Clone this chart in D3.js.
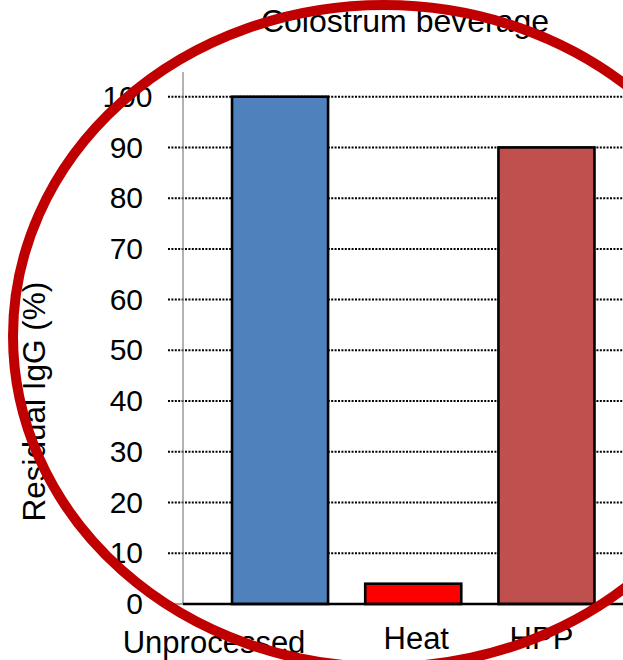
<!DOCTYPE html>
<html>
<head>
<meta charset="utf-8">
<script src="https://cdn.jsdelivr.net/npm/d3@7/dist/d3.min.js"></script>
<style>
  html, body { margin: 0; padding: 0; background: #fff; }
  svg { display: block; }
  text { font-family: "Liberation Sans", Arial, sans-serif; fill: #000; }
</style>
</head>
<body>
<script>
// Residual IgG after processing of colostrum beverage
const categories = ["Unprocessed", "Heat", "HPP"];
const residualIgG = [100, 4, 90];
const barColors = ["#4F81BD", "#FF0000", "#C0504D"];
const yTicks = [0, 10, 20, 30, 40, 50, 60, 70, 80, 90, 100];
const chartTitle = "Colostrum beverage";
const yTitle = "Residual IgG (%)";

const W = 623, H = 660;
const svg = d3.select("body").append("svg").attr("width", W).attr("height", H);

const axisX = 183;
const x = d3.scaleBand()
  .domain(categories)
  .range([axisX, 643.5])
  .paddingInner(0.279)
  .paddingOuter(0.368);

const y = d3.scaleLinear().domain([0, 100]).range([604, 96.7]);

// dotted gridlines, including the short tick stub left of the axis
svg.append("g")
  .selectAll("line")
  .data(yTicks.filter(t => t > 0))
  .join("line")
  .attr("x1", axisX - 15)
  .attr("x2", W)
  .attr("y1", d => y(d))
  .attr("y2", d => y(d))
  .attr("stroke", "#000")
  .attr("stroke-width", 2)
  .attr("stroke-dasharray", "2,1.4");

// vertical axis line
svg.append("line")
  .attr("x1", axisX).attr("x2", axisX)
  .attr("y1", 72).attr("y2", y(0))
  .attr("stroke", "#808080").attr("stroke-width", 1.2);

// tick labels
const yAxis = d3.axisLeft(y).tickValues(yTicks).tickSize(0).tickPadding(0);
const gy = svg.append("g").attr("transform", `translate(143,0)`).call(yAxis);
gy.select(".domain").remove();
gy.selectAll("text")
  .attr("font-size", 30)
  .attr("font-family", "'Liberation Sans', Arial, sans-serif")
  .attr("fill", "#000")
  .attr("dx", d => (d === 100 ? 9.5 : 0));

// bars
svg.append("g")
  .selectAll("rect")
  .data(categories)
  .join("rect")
  .attr("x", d => x(d))
  .attr("width", x.bandwidth())
  .attr("y", (d, i) => y(residualIgG[i]))
  .attr("height", (d, i) => y(0) - y(residualIgG[i]))
  .attr("fill", (d, i) => barColors[i])
  .attr("stroke", "#000")
  .attr("stroke-width", 2.6);

// baseline
svg.append("line")
  .attr("x1", axisX - 15).attr("x2", axisX)
  .attr("y1", y(0)).attr("y2", y(0))
  .attr("stroke", "#808080").attr("stroke-width", 1.5);
svg.append("line")
  .attr("x1", axisX).attr("x2", W)
  .attr("y1", y(0)).attr("y2", y(0))
  .attr("stroke", "#000").attr("stroke-width", 2.4);

// category labels (slightly nudged from band centres)
const labelNudge = { Unprocessed: [-66, 3], Heat: [3, -1], HPP: [-5, -1] };
svg.append("g")
  .selectAll("text")
  .data(categories)
  .join("text")
  .attr("x", d => x(d) + x.bandwidth() / 2 + labelNudge[d][0])
  .attr("y", d => 650 + labelNudge[d][1])
  .attr("text-anchor", "middle")
  .attr("font-size", 31)
  .text(d => d);

// chart title
svg.append("text")
  .attr("x", 405).attr("y", 32)
  .attr("text-anchor", "middle")
  .attr("font-size", 32)
  .text(chartTitle);

// y-axis title
svg.append("text")
  .attr("transform", "translate(45,401.7) rotate(-90)")
  .attr("text-anchor", "middle")
  .attr("font-size", 31.5)
  .text(yTitle);

// highlight ring drawn over the chart
svg.append("ellipse")
  .attr("cx", 384).attr("cy", 336)
  .attr("rx", 371).attr("ry", 331)
  .attr("fill", "none")
  .attr("stroke", "#C00000")
  .attr("stroke-width", 10);
</script>
</body>
</html>
